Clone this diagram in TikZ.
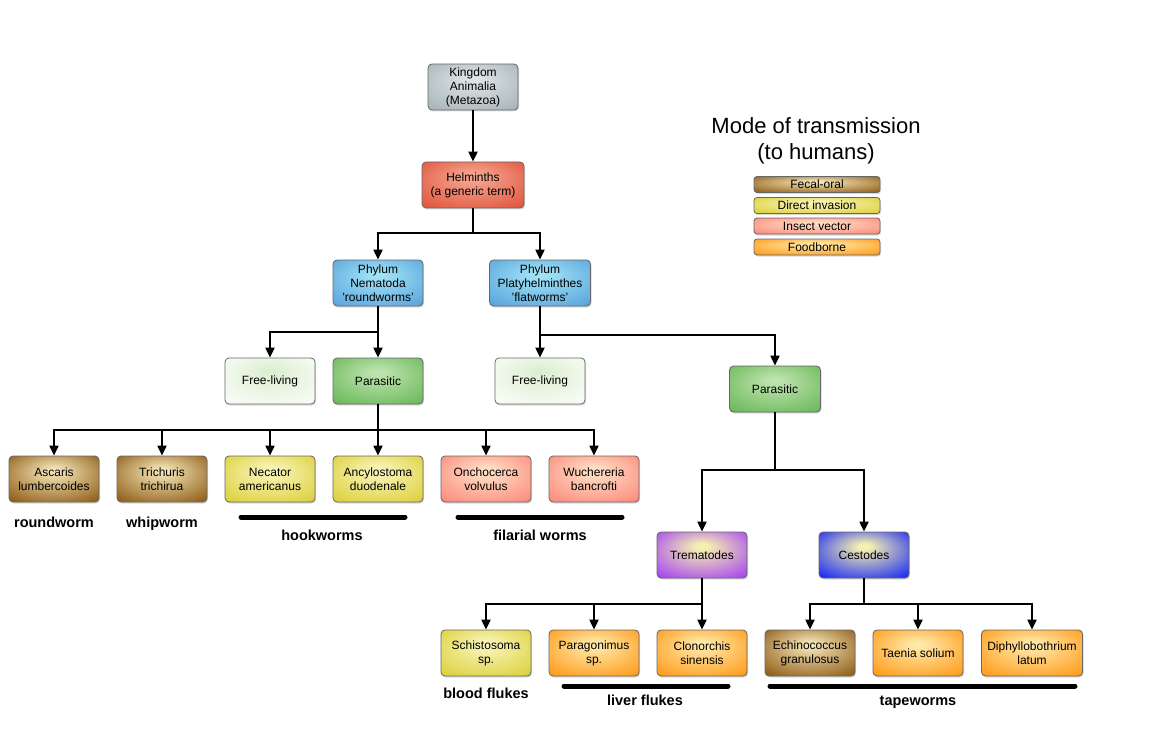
\documentclass[tikz,border=0pt]{standalone}
\usepackage{fontspec}
\setmainfont{Liberation Sans}
\usetikzlibrary{arrows.meta,shadows}

\definecolor{greyin}{HTML}{DCE4E6}
\definecolor{greyout}{HTML}{A7B4B8}
\definecolor{redin}{HTML}{F6A690}
\definecolor{redout}{HTML}{E0553E}
\definecolor{bluein}{HTML}{A0E2F6}
\definecolor{blueout}{HTML}{5AA4DC}
\definecolor{palein}{HTML}{DDEFD3}
\definecolor{paleout}{HTML}{FAFDF8}
\definecolor{greenin}{HTML}{BCE3AE}
\definecolor{greenout}{HTML}{6BB859}
\definecolor{brownin}{HTML}{F2E2B4}
\definecolor{brownout}{HTML}{8E5C16}
\definecolor{yellowin}{HTML}{F8F4B8}
\definecolor{yellowout}{HTML}{DCD03A}
\definecolor{salmonin}{HTML}{FFDEC4}
\definecolor{salmonout}{HTML}{FC8A7C}
\definecolor{orangein}{HTML}{FFE8A8}
\definecolor{orangeout}{HTML}{FF9A18}
\definecolor{purpleout}{HTML}{A442F2}
\definecolor{royalout}{HTML}{1828F4}
\definecolor{creamin}{HTML}{F6F0B0}

% soft radial fill, colours set per box
\colorlet{boxin}{white}
\colorlet{boxout}{gray}
\pgfdeclareradialshading[boxin,boxout]{softglow}{\pgfpoint{0bp}{10bp}}%
  {color(0bp)=(boxin); color(3bp)=(boxin); color(36bp)=(boxout); color(50bp)=(boxout)}

\tikzset{
  box/.style={draw=black!60, line width=0.8pt, rounded corners=4pt,
    minimum width=90pt, minimum height=46pt, align=center, inner sep=2pt,
    font=\fontsize{12}{14}\selectfont, shading=softglow,
    drop shadow={opacity=0.3, shadow xshift=1pt, shadow yshift=-1.5pt}},
  legbox/.style={box, minimum width=126pt, minimum height=16pt, rounded corners=3pt},
  fill pair/.style 2 args={/utils/exec={\colorlet{boxin}{#1}\colorlet{boxout}{#2}}},
  grey/.style={fill pair={greyin}{greyout}},
  red/.style={fill pair={redin}{redout}},
  phylum/.style={fill pair={bluein}{blueout}},
  pale/.style={fill pair={palein}{paleout}},
  green/.style={fill pair={greenin}{greenout}},
  fecal/.style={fill pair={brownin}{brownout}},
  direct/.style={fill pair={yellowin}{yellowout}},
  insect/.style={fill pair={salmonin}{salmonout}},
  food/.style={fill pair={orangein}{orangeout}},
  trem/.style={fill pair={creamin}{purpleout}},
  cest/.style={fill pair={creamin}{royalout}},
  arr/.style={line width=2pt, -{Triangle[width=9pt,length=10pt]}},
  link/.style={line width=2pt},
  bar/.style={line width=5pt, line cap=round},
  tag/.style={anchor=base, font=\fontsize{14.5}{17}\selectfont\bfseries}
}

\begin{document}
\begin{tikzpicture}[x=1pt, y=-1pt]
\useasboundingbox (0,0) rectangle (1152,733);

% tree
\node[box, grey] (kingdom) at (473,87) {Kingdom\\Animalia\\(Metazoa)};
\node[box, red, minimum width=102pt] (helminths) at (473,185) {Helminths\\(a generic term)};
\node[box, phylum] (nematoda) at (378,283) {Phylum\\Nematoda\\'roundworms'};
\node[box, phylum, minimum width=101pt] (platy) at (540,283) {Phylum\\Platyhelminthes\\'flatworms'};
\node[box, pale] (freeN) at (270,381) {Free-living};
\node[box, green] (parasN) at (378,381) {Parasitic};
\node[box, pale] (freeP) at (540,381) {Free-living};
\node[box, green, minimum width=91pt] (parasP) at (775,389) {Parasitic};

\node[box, fecal] (ascaris) at (54,479) {Ascaris\\lumbercoides};
\node[box, fecal] (trichuris) at (162,479) {Trichuris\\trichirua};
\node[box, direct] (necator) at (270,479) {Necator\\americanus};
\node[box, direct] (ancylo) at (378,479) {Ancylostoma\\duodenale};
\node[box, insect] (oncho) at (486,479) {Onchocerca\\volvulus};
\node[box, insect] (wuch) at (594,479) {Wuchereria\\bancrofti};

\node[box, trem] (tremat) at (702,555) {Trematodes};
\node[box, cest] (cestod) at (864,555) {Cestodes};

\node[box, direct] (schisto) at (486,653) {Schistosoma\\sp.};
\node[box, food] (parago) at (594,653) {Paragonimus\\sp.};
\node[box, food] (clonor) at (702,653) {Clonorchis\\sinensis};
\node[box, fecal] (echino) at (810,653) {Echinococcus\\granulosus};
\node[box, food] (taenia) at (918,653) {Taenia solium};
\node[box, food, minimum width=101pt] (diphyl) at (1032,653) {Diphyllobothrium\\latum};

% split points
\coordinate (hsplit) at (473,233);
\coordinate (nsplit) at (378,332);
\coordinate (psplit) at (540,335);
\coordinate (rsplit) at (378,430);
\coordinate (qsplit) at (775,470);
\coordinate (tsplit) at (702,604);
\coordinate (csplit) at (864,604);

% connectors
\draw[arr] (kingdom) -- (helminths);
\draw[link] (helminths) -- (hsplit);
\foreach \n in {nematoda, platy}
  \draw[arr] (hsplit) -| (\n.north);
\draw[arr] (nematoda) -- (parasN);
\draw[arr] (nsplit) -| (freeN.north);
\draw[arr] (platy) -- (freeP);
\draw[arr] (psplit) -| (parasP.north);
\draw[link] (parasN) -- (rsplit);
\foreach \n in {ascaris, trichuris, necator, ancylo, oncho, wuch}
  \draw[arr] (rsplit) -| (\n.north);
\draw[link] (parasP) -- (qsplit);
\foreach \n in {tremat, cestod}
  \draw[arr] (qsplit) -| (\n.north);
\draw[link] (tremat) -- (tsplit);
\foreach \n in {schisto, parago, clonor}
  \draw[arr] (tsplit) -| (\n.north);
\draw[link] (cestod) -- (csplit);
\foreach \n in {echino, taenia, diphyl}
  \draw[arr] (csplit) -| (\n.north);

% group labels
\node[tag] (tround) at (54,527) {roundworm};
\node[tag] (twhip) at (162,527) {whipworm};
\draw[bar] (241,517) -- (405,517);
\node[tag] (thook) at (322,540) {hookworms};
\draw[bar] (458,517) -- (622,517);
\node[tag] (tfil) at (540,540) {filarial worms};
\node[tag] (tblood) at (486,698) {blood flukes};
\draw[bar] (564,686) -- (728,686);
\node[tag] (tliver) at (645,705) {liver flukes};
\draw[bar] (770,686) -- (1075,686);
\node[tag] (ttape) at (918,705) {tapeworms};

% legend
\node[align=center, font=\fontsize{22}{26}\selectfont] (legtitle) at (816,141)
  {Mode of transmission\\(to humans)};
\node[legbox, fecal] (legfecal) at (817,184.5) {Fecal-oral};
\node[legbox, direct] (legdirect) at (817,205.5) {Direct invasion};
\node[legbox, insect] (leginsect) at (817,226) {Insect vector};
\node[legbox, food] (legfood) at (817,247) {Foodborne};

\end{tikzpicture}
\end{document}
